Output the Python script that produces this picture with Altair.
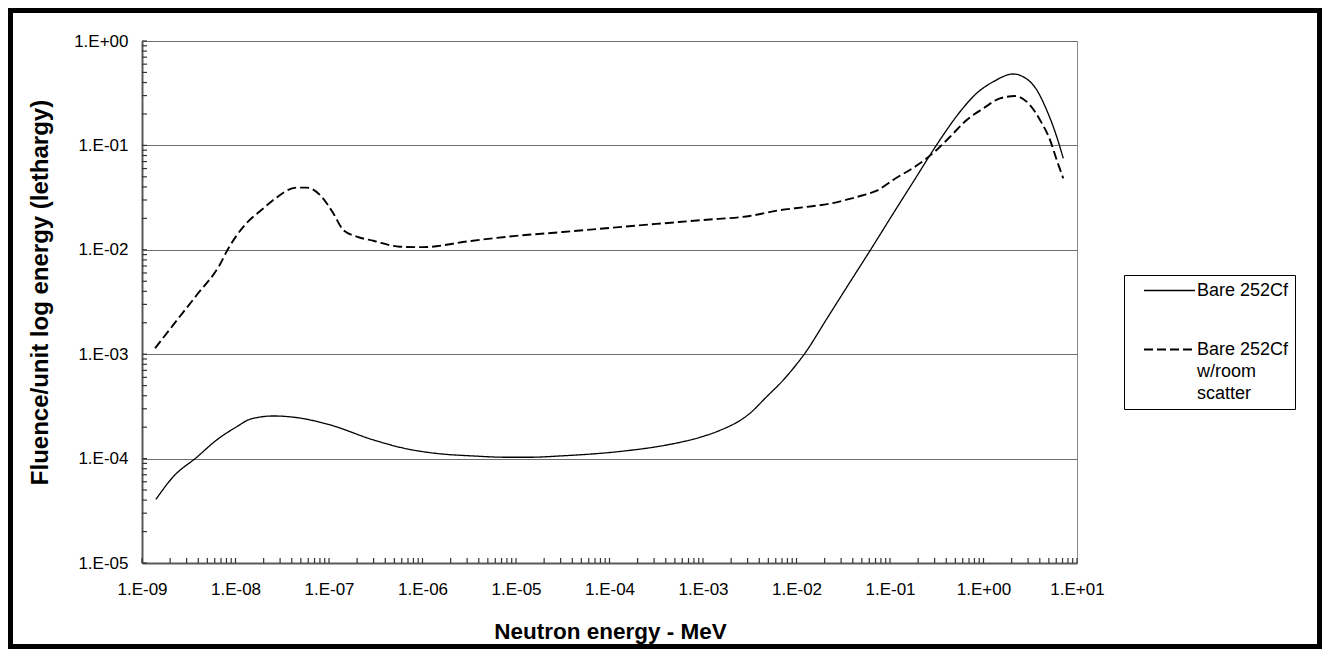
import altair as alt
import pandas as pd

# ---- data (energy in MeV, fluence per unit lethargy) ----
bare_energy = [1.41e-9, 2.16e-9, 3.85e-9, 6.30e-9, 1.03e-8, 1.43e-8, 2.54e-8, 4.52e-8,
               1.03e-7, 2.98e-7, 6.78e-7, 1.42e-6, 3.49e-6, 7.96e-6, 1.41e-5, 2.96e-5,
               1.53e-4, 4.09e-4, 9.29e-4, 1.40e-3, 3.18e-3, 4.80e-3, 7.23e-3, 9.25e-3,
               1.23e-2, 2.10e-2, 3.44e-2, 6.37e-2, 0.108, 0.177, 0.315, 0.561, 0.845,
               1.27, 2.08, 2.56, 3.71, 4.74, 6.07, 7.13]
bare_fluence = [4.07e-5, 6.71e-5, 1.03e-4, 1.51e-4, 2.02e-4, 2.38e-4, 2.56e-4, 2.47e-4,
                2.10e-4, 1.51e-4, 1.24e-4, 1.12e-4, 1.06e-4, 1.03e-4, 1.03e-4, 1.06e-4,
                1.19e-4, 1.35e-4, 1.60e-4, 1.81e-4, 2.72e-4, 3.92e-4, 5.66e-4, 7.33e-4,
                1.02e-3, 2.17e-3, 4.37e-3, 1.04e-2, 2.22e-2, 4.47e-2, 0.101, 0.210, 0.316,
                0.407, 0.483, 0.462, 0.340, 0.218, 0.121, 0.0752]

room_energy = [1.38e-9, 2.16e-9, 3.85e-9, 6.68e-9, 8.38e-9, 1.21e-8, 1.98e-8, 2.54e-8,
               4.52e-8, 5.77e-8, 8.02e-8, 1.11e-7, 1.42e-7, 1.98e-7, 2.98e-7, 5.74e-7,
               1.0e-6, 3.16e-6, 1.0e-5, 3.16e-5, 1.0e-4, 3.16e-4, 1.0e-3, 3.16e-3,
               6.67e-3, 1.26e-2, 2.28e-2, 3.44e-2, 5.01e-2, 7.21e-2, 0.108, 0.209, 0.315,
               0.439, 0.661, 0.995, 1.50, 2.17, 3.14, 4.02, 5.14, 6.07, 7.13]
room_fluence = [1.14e-3, 1.91e-3, 3.69e-3, 7.01e-3, 1.03e-2, 1.66e-2, 2.49e-2, 3.00e-2,
                3.94e-2, 3.94e-2, 3.35e-2, 2.24e-2, 1.55e-2, 1.34e-2, 1.22e-2, 1.07e-2,
                1.06e-2, 1.21e-2, 1.36e-2, 1.48e-2, 1.62e-2, 1.77e-2, 1.93e-2, 2.11e-2,
                2.40e-2, 2.57e-2, 2.77e-2, 3.02e-2, 3.31e-2, 3.68e-2, 4.67e-2, 6.73e-2,
                9.04e-2, 0.121, 0.175, 0.226, 0.282, 0.297, 0.244, 0.175, 0.113, 0.0724,
                0.0484]

series_names = ["Bare 252Cf", "Bare 252Cf w/room scatter"]

x_major = [1e-9, 1e-8, 1e-7, 1e-6, 1e-5, 1e-4, 1e-3, 1e-2, 1e-1, 1e0, 1e1]
x_tick_labels = ["1.E-09", "1.E-08", "1.E-07", "1.E-06", "1.E-05", "1.E-04",
                 "1.E-03", "1.E-02", "1.E-01", "1.E+00", "1.E+01"]
y_major = [1e-5, 1e-4, 1e-3, 1e-2, 1e-1, 1e0]
y_tick_labels = ["1.E-05", "1.E-04", "1.E-03", "1.E-02", "1.E-01", "1.E+00"]

# ---- build tables ----
df = pd.concat([
    pd.DataFrame({"energy": bare_energy, "fluence": bare_fluence, "series": series_names[0],
                  "order": range(len(bare_energy))}),
    pd.DataFrame({"energy": room_energy, "fluence": room_fluence, "series": series_names[1],
                  "order": range(len(room_energy))}),
])

x_minor = [k * d for d in x_major[:-1] for k in range(1, 10)] + [x_major[-1]]
y_minor = [k * d for d in y_major[:-1] for k in range(1, 10)] + [y_major[-1]]

W, H = 935, 522
PAD = {"left": 134, "top": 33, "right": 245, "bottom": 86}
FONT = "Liberation Sans"
TICK = 5

xscale = alt.Scale(type="log", domain=[1e-9, 10], nice=False)
yscale = alt.Scale(type="log", domain=[1e-5, 1], nice=False)

x_lab_expr = "%s[round(log(datum.value)/LN10)+9]" % str(x_tick_labels)
y_lab_expr = "%s[round(log(datum.value)/LN10)+5]" % str(y_tick_labels)

main_x = alt.Axis(values=x_major, labelExpr=x_lab_expr, ticks=False, tickSize=0,
                  grid=False, domainColor="#5a5a5a", domainWidth=2,
                  labelFont=FONT, labelFontSize=17, labelColor="black", labelPadding=18,
                  labelFlush=False, labelOverlap=False,
                  title="Neutron energy - MeV", titleFont=FONT, titleFontSize=22.5,
                  titleFontWeight="bold", titleColor="black",
                  titleX=468, titleY=68, titleBaseline="middle", titleAlign="center")
main_y = alt.Axis(values=y_major, labelExpr=y_lab_expr, ticks=False, tickSize=0,
                  grid=True, gridColor="#6e6e6e", gridWidth=1,
                  domainColor="#5a5a5a", domainWidth=2,
                  labelFont=FONT, labelFontSize=17, labelColor="black", labelPadding=14,
                  labelFlush=False, labelOverlap=False,
                  title="Fluence/unit log energy (lethargy)", titleFont=FONT, titleFontSize=24,
                  titleFontWeight="bold", titleColor="black",
                  titleX=-102, titleY=251, titleBaseline="middle", titleAlign="center",
                  titleAngle=270)

legend = alt.Legend(
    title=None, orient="none", legendX=982, legendY=234,
    strokeColor="black", fillColor="white", padding=6,
    symbolType="M-3,0H3", symbolSize=289, symbolStrokeWidth=2, symbolStrokeColor="black",
    symbolFillColor="transparent",
    symbolOffset=30, labelOffset=18, rowPadding=40,
    labelFont=FONT, labelFontSize=18, labelColor="black", labelLimit=400,
    labelExpr="datum.label == 'Bare 252Cf w/room scatter' ? ['Bare 252Cf', 'w/room', 'scatter'] : datum.label",
)

lines = alt.Chart(df).mark_line(color="black", interpolate="monotone").encode(
    x=alt.X("energy:Q", scale=xscale, axis=main_x),
    y=alt.Y("fluence:Q", scale=yscale, axis=main_y),
    strokeDash=alt.StrokeDash("series:N", scale=alt.Scale(domain=series_names, range=[[1, 0], [9, 4]]),
                              legend=legend),
    strokeWidth=alt.StrokeWidth("series:N", scale=alt.Scale(domain=series_names, range=[1.3, 1.9]),
                                legend=None),
    order="order:Q",
)

xticks = alt.Chart(pd.DataFrame({"xt": x_minor})).mark_rule(color="#333333", strokeWidth=1.2).encode(
    x=alt.X("xt:Q", scale=xscale, axis=main_x),
    y=alt.value(H), y2=alt.value(H - TICK),
)
yticks = alt.Chart(pd.DataFrame({"yt": y_minor})).mark_rule(color="#333333", strokeWidth=1.2).encode(
    y=alt.Y("yt:Q", scale=yscale, axis=main_y),
    x=alt.value(0), x2=alt.value(TICK),
)

frame = alt.Chart(pd.DataFrame({"f": [0]})).mark_rect(
    fillOpacity=0, stroke="black", strokeWidth=5
).encode(
    x=alt.value(-PAD["left"] + 2.5), x2=alt.value(W + PAD["right"] - 2.5),
    y=alt.value(-PAD["top"] + 2.5), y2=alt.value(H + PAD["bottom"] - 2.5),
)

chart = alt.layer(lines, xticks, yticks, frame).properties(
    width=W, height=H, padding=PAD, autosize=alt.AutoSizeParams(type="none"),
    background="white",
).configure(
    style={"guide-label": {"lineHeight": 22}}
).configure_view(stroke="#8a8a8a", strokeWidth=1)

chart.save("out.html", embed_options={"renderer": "svg", "actions": False})
